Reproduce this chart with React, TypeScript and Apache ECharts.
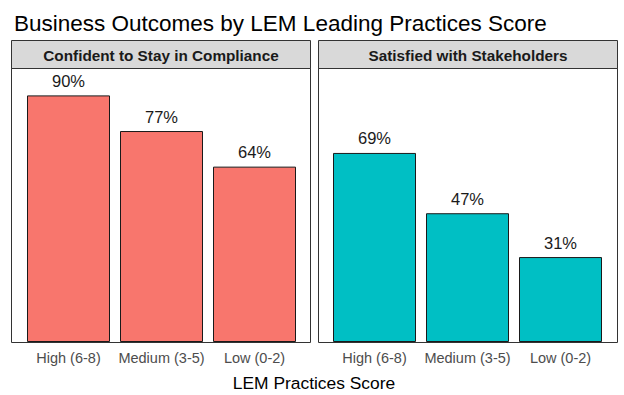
import React, { useEffect, useRef } from "react";
import * as echarts from "echarts";

const categories = ["High (6-8)", "Medium (3-5)", "Low (0-2)"];
const panelTitles = ["Confident to Stay in Compliance", "Satisfied with Stakeholders"];
const complianceValues = [90, 77, 64];
const stakeholderValues = [69, 47, 31];
const panelColors = ["#F8766D", "#00BFC4"];
const chartTitle = "Business Outcomes by LEM Leading Practices Score";
const xAxisTitle = "LEM Practices Score";

export default function App() {
  const ref = useRef<HTMLDivElement>(null);
  useEffect(() => {
    if (!ref.current) return;
    const chart = echarts.init(ref.current, null, { renderer: "svg" });
    const font = "'Liberation Sans', Arial, sans-serif";
    const panels = [
      { x: 11, w: 299, gridLeft: 22 },
      { x: 318, w: 299, gridLeft: 328 },
    ];
    const top = 68;
    const h = 274;
    const stripTop = 40;
    const stripH = 28;
    const seriesData = [complianceValues, stakeholderValues];

    const graphics: any[] = [];
    panels.forEach((p, i) => {
      graphics.push({
        type: "rect",
        shape: { x: p.x + 0.5, y: stripTop + 0.5, width: p.w, height: stripH },
        style: { fill: "#d9d9d9", stroke: "#333333", lineWidth: 1 },
        z: 1,
      });
      graphics.push({
        type: "text",
        x: p.x + p.w / 2 + 0.5,
        y: stripTop + stripH / 2 + 1,
        style: {
          text: panelTitles[i],
          fill: "#1a1a1a",
          font: `bold 15.3px ${font}`,
          align: "center",
          verticalAlign: "middle",
        },
        z: 2,
      });
      graphics.push({
        type: "rect",
        shape: { x: p.x + 0.5, y: top + 0.5, width: p.w, height: h },
        style: { fill: "none", stroke: "#333333", lineWidth: 1 },
        z: 100,
      });
    });
    graphics.push({
      type: "text",
      x: 314,
      y: 383,
      style: {
        text: xAxisTitle,
        fill: "#000000",
        font: `17.4px ${font}`,
        align: "center",
        verticalAlign: "middle",
      },
    });

    chart.setOption({
      animation: false,
      backgroundColor: "#ffffff",
      title: {
        text: chartTitle,
        left: 9,
        top: 7,
        textStyle: { fontFamily: font, fontSize: 22.5, fontWeight: "normal", color: "#000000" },
      },
      grid: panels.map((p) => ({
        left: p.gridLeft,
        top: top,
        width: 279,
        height: h,
        containLabel: false,
      })),
      xAxis: panels.map((_, i) => ({
        type: "category",
        gridIndex: i,
        data: categories,
        axisLine: { show: false },
        axisTick: { show: false },
        axisLabel: { color: "#4d4d4d", fontSize: 14.5, fontFamily: font, margin: 8, interval: 0 },
      })),
      yAxis: panels.map((_, i) => ({
        type: "value",
        gridIndex: i,
        min: 0,
        max: 100,
        show: false,
        splitLine: { show: false },
      })),
      series: seriesData.map((vals, i) => ({
        type: "bar",
        xAxisIndex: i,
        yAxisIndex: i,
        data: vals,
        barWidth: 83,
        itemStyle: { color: panelColors[i], borderColor: "#1a1a1a", borderWidth: 1 },
        label: {
          show: true,
          position: "top",
          distance: 6,
          formatter: (p: any) => `${p.value}%`,
          color: "#1a1a1a",
          fontSize: 16.5,
          fontFamily: font,
        },
      })),
      graphic: graphics,
    });
    return () => chart.dispose();
  }, []);
  return (
    <div
      ref={ref}
      style={{ position: "fixed", left: 0, top: 0, width: 624, height: 395 }}
    />
  );
}
